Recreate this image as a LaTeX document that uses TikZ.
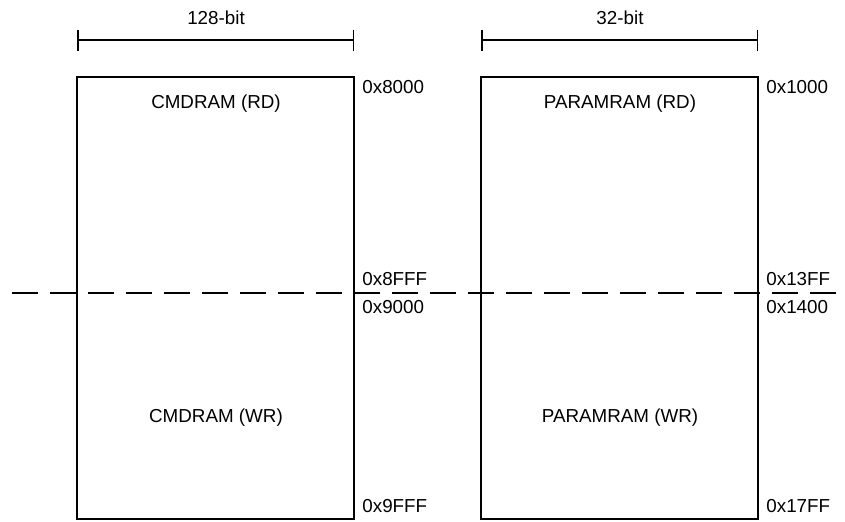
\documentclass[tikz,border=0pt]{standalone}
\usepackage{fontspec}
\setmainfont{Liberation Sans}
\usepackage{tikz}
\usetikzlibrary{arrows.meta,calc,positioning}
\tikzset{
  membox/.style={rectangle, draw, line width=1pt, minimum width=138.5pt, minimum height=221pt, inner sep=0pt},
  lbl/.style={inner sep=0pt, font=\fontsize{9.4pt}{11pt}\selectfont},
  addr/.style={lbl, anchor=west},
  widthbar/.style={line width=0.75pt, {Bar[width=10.5pt]}-{Bar[width=10.5pt]}},
  split/.style={line width=0.7pt, dash pattern=on 13pt off 6pt},
  every picture/.style={line cap=butt, line join=miter}
}

\begin{document}
\begin{tikzpicture}[x=0.5pt, y=-0.5pt]
  \useasboundingbox (0,0) rectangle (845,521);

  % memory blocks
  \node[membox] (cmd) at (215.5,298) {};
  \node[membox] (par) at (619.5,298) {};

  % bus widths
  \coordinate (c1) at (77,40);
  \coordinate (c2) at (354,40);
  \coordinate (p1) at (481,40);
  \coordinate (p2) at (758,40);
  \draw[widthbar] (c1) -- (c2);
  \draw[widthbar] (p1) -- (p2);
  \node[lbl] (cw) at (216,18) {128-bit};
  \node[lbl] (pw) at (620,18) {32-bit};

  % RD / WR split
  \coordinate (s1) at (12,293);
  \coordinate (s2) at (845,293);
  \draw[split] (s1) -- (s2);

  \node[lbl] (cmdrd) at (216,104) {CMDRAM (RD)};
  \node[lbl] (cmdwr) at (216,418) {CMDRAM (WR)};
  \node[lbl] (parrd) at (620,104) {PARAMRAM (RD)};
  \node[lbl] (parwr) at (620,418) {PARAMRAM (WR)};

  % addresses
  \node[addr] (a1) at (362,87) {0x8000};
  \node[addr] (a2) at (362,279) {0x8FFF};
  \node[addr] (a3) at (362,307) {0x9000};
  \node[addr] (a4) at (362,506) {0x9FFF};
  \node[addr] (b1) at (766,87) {0x1000};
  \node[addr] (b2) at (766,279) {0x13FF};
  \node[addr] (b3) at (766,307) {0x1400};
  \node[addr] (b4) at (766,506) {0x17FF};
\end{tikzpicture}
\end{document}
